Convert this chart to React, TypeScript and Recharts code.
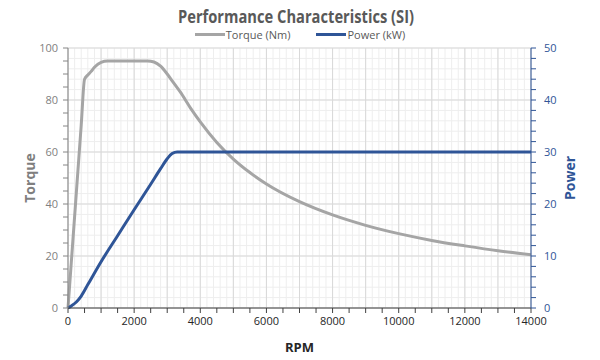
import { LineChart, Line, XAxis, YAxis, CartesianGrid, Legend } from 'recharts';

// torque curve (Nm)
const torqueRpm = [0, 100, 250, 400, 500, 600, 700, 800, 1000, 1200, 2400, 2600, 2800, 3000, 3200, 3400, 3700, 4000, 4500, 5000, 5500, 6000, 7000, 8000, 9000, 10000, 11000, 12000, 13000, 14000];
const torqueNm = [0, 17.6, 44, 70.4, 88, 89.6, 91, 92.6, 94.5, 95, 95, 94.6, 93, 90, 86.5, 83, 77, 71.6, 63.7, 57.3, 52.1, 47.7, 40.9, 35.8, 31.8, 28.6, 26, 23.9, 22, 20.5];

// power curve (kW)
const powerRpm = [0, 100, 260, 400, 600, 1000, 1500, 2000, 2500, 2800, 3000, 3150, 3300, 3500, 14000];
const powerKw = [0, 0.4, 1.2, 2.3, 4.5, 8.9, 13.9, 18.9, 23.8, 26.8, 28.7, 29.7, 30, 30, 30];

const xLabelTicks = [0, 2000, 4000, 6000, 8000, 10000, 12000, 14000];
const torqueLabelTicks = [0, 20, 40, 60, 80, 100];
const powerLabelTicks = [0, 10, 20, 30, 40, 50];

const xMinorTicks = Array.from({ length: 29 }, (_, i) => i * 500);
const torqueMinorTicks = Array.from({ length: 21 }, (_, i) => i * 5);
const powerMinorTicks = Array.from({ length: 26 }, (_, i) => i * 2);

const gridMinorX = Array.from({ length: 71 }, (_, i) => i * 200);
const gridMajorX = Array.from({ length: 15 }, (_, i) => i * 1000);
const gridMinorY = Array.from({ length: 26 }, (_, i) => i * 4);

const torqueData = torqueRpm.map((rpm, i) => ({ rpm, torque: torqueNm[i] }));
const powerData = powerRpm.map((rpm, i) => ({ rpm, power: powerKw[i] }));

const FONT = '"Open Sans", sans-serif';
const GRAY = '#a5a5a5';
const BLUE = '#2f5597';
const TEXT = '#595959';

const legendItems = [
  { label: 'Torque (Nm)', color: GRAY },
  { label: 'Power (kW)', color: BLUE },
];

function LegendContent() {
  return (
    <div style={{ display: 'flex', justifyContent: 'center', gap: 26, fontFamily: FONT, fontSize: 11, color: TEXT }}>
      {legendItems.map((it) => (
        <div key={it.label} style={{ display: 'flex', alignItems: 'center' }}>
          <span style={{ display: 'inline-block', width: 30, height: 3, background: it.color, marginRight: 1 }} />
          <span>{it.label}</span>
        </div>
      ))}
    </div>
  );
}

export default function App() {
  return (
    <div style={{ position: 'absolute', left: 0, top: 0, width: 600, height: 360, background: '#fff' }}>
      <svg width={600} height={30} style={{ position: 'absolute', left: 0, top: 0 }}>
        <text
          x={296}
          y={23}
          textAnchor="middle"
          fontFamily={FONT}
          fontWeight={700}
          fontSize={17}
          fill={TEXT}
          textLength={236}
          lengthAdjust="spacingAndGlyphs"
        >
          Performance Characteristics (SI)
        </text>
      </svg>
      <LineChart width={600} height={360} margin={{ top: 48, right: 0, left: 0, bottom: 8 }}>
        <CartesianGrid
          yAxisId="left"
          verticalValues={gridMinorX}
          horizontalValues={gridMinorY}
          stroke="#eeeeee"
          strokeWidth={1}
        />
        <CartesianGrid
          yAxisId="left"
          verticalValues={gridMajorX}
          horizontalValues={torqueLabelTicks}
          stroke="#d9d9d9"
          strokeWidth={1}
        />
        <XAxis
          type="number"
          dataKey="rpm"
          domain={[0, 14000]}
          ticks={xMinorTicks}
          interval={0}
          tickFormatter={(v) => (xLabelTicks.includes(v) ? String(v) : '')}
          height={44}
          tickSize={5}
          tickMargin={4}
          stroke="#404040"
          tick={{ fill: '#262626', fontSize: 11, fontFamily: FONT }}
          label={{ value: 'RPM', position: 'insideBottom', offset: 0, fill: '#262626', fontSize: 13, fontWeight: 700, fontFamily: FONT }}
        />
        <YAxis
          yAxisId="left"
          domain={[0, 100]}
          ticks={torqueMinorTicks}
          interval={0}
          tickFormatter={(v) => (torqueLabelTicks.includes(v) ? String(v) : '')}
          width={68}
          tickSize={5}
          tickMargin={5}
          stroke="#868686"
          tick={{ fill: '#7f7f7f', fontSize: 11, fontFamily: FONT }}
          label={{ value: 'Torque', angle: -90, position: 'center', dx: -4, fill: '#7f7f7f', fontSize: 14, fontWeight: 700, fontFamily: FONT }}
        />
        <YAxis
          yAxisId="right"
          orientation="right"
          domain={[0, 50]}
          ticks={powerMinorTicks}
          interval={0}
          tickFormatter={(v) => (powerLabelTicks.includes(v) ? String(v) : '')}
          width={69}
          tickSize={5}
          tickMargin={8}
          stroke={BLUE}
          tick={{ fill: BLUE, fontSize: 11, fontFamily: FONT }}
          label={{ value: 'Power', angle: -90, position: 'center', dx: 5, fill: BLUE, fontSize: 14, fontWeight: 700, fontFamily: FONT }}
        />
        <Legend verticalAlign="middle" content={<LegendContent />} wrapperStyle={{ top: 27, left: 0, width: 600 }} />
        <Line
          yAxisId="left"
          data={torqueData}
          dataKey="torque"
          type="monotone"
          stroke={GRAY}
          strokeWidth={3}
          dot={false}
          isAnimationActive={false}
        />
        <Line
          yAxisId="right"
          data={powerData}
          dataKey="power"
          type="monotone"
          stroke={BLUE}
          strokeWidth={3}
          dot={false}
          isAnimationActive={false}
        />
      </LineChart>
    </div>
  );
}
